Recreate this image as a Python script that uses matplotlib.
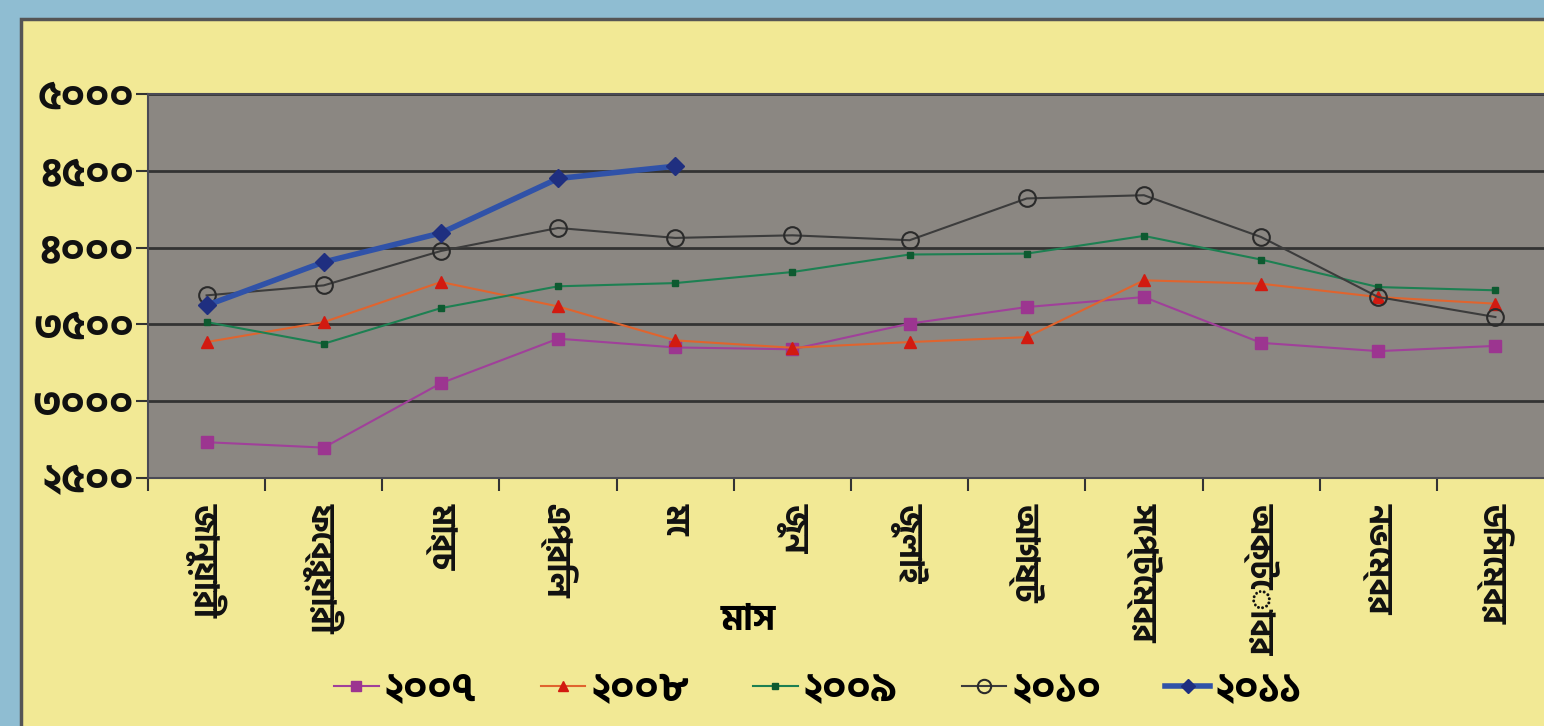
import matplotlib
matplotlib.use("Agg")
import matplotlib.pyplot as plt
from matplotlib.patches import Rectangle
import numpy as np

# data
months = ["জানুয়ারী", "ফেব্রুয়ারী", "মার্চ", "এপ্রিল", "মে", "জুন",
          "জুলাই", "আগষ্ট", "সেপ্টেম্বর", "অক্টোবর", "নভেম্বর", "ডিসেম্বর"]
years = ["২০০৭", "২০০৮", "২০০৯", "২০১০", "২০১১"]
v2007 = [2733, 2698, 3117, 3407, 3350, 3338, 3505, 3613, 3678, 3380, 3326, 3360]
v2008 = [3385, 3515, 3776, 3617, 3396, 3348, 3385, 3417, 3787, 3765, 3678, 3635]
v2009 = [3515, 3374, 3606, 3748, 3769, 3841, 3955, 3961, 4076, 3922, 3743, 3722]
v2010 = [3689, 3754, 3978, 4128, 4063, 4080, 4048, 4320, 4341, 4069, 3678, 3548]
v2011 = [3624, 3906, 4095, 4450, 4530]
yticks = [2500, 3000, 3500, 4000, 4500, 5000]
ytick_labels = ["২৫০০", "৩০০০", "৩৫০০", "৪০০০", "৪৫০০", "৫০০০"]
xlabel = "মাস"

plt.rcParams["font.family"] = ["Hind Siliguri", "Noto Sans Bengali", "DejaVu Sans"]

fig = plt.figure(figsize=(15.44, 7.26), dpi=100)
fig.patch.set_facecolor("#8fbdd2")
fig.patches.append(Rectangle((21 / 1544, -0.05), 1.1, 1 - 19 / 726 + 0.05,
                             transform=fig.transFigure, facecolor="#f2e995",
                             edgecolor="#555555", linewidth=2.5, zorder=-5))

ax = fig.add_axes([148 / 1544, 1 - 478 / 726, 1406 / 1544, 384 / 726])
ax.set_facecolor("#8b8782")
x = np.arange(len(months))

ax.plot(x, v2007, "-s", color="#a0409a", lw=1.5, ms=9, mfc="#9c3590", mec="#9c3590", label=years[0], zorder=3)
ax.plot(x, v2008, "-^", color="#e0642e", lw=1.5, ms=9, mfc="#d21a10", mec="#d21a10", label=years[1], zorder=3)
ax.plot(x, v2009, "-s", color="#1d8052", lw=1.5, ms=5, mfc="#0d5a30", mec="#0d5a30", label=years[2], zorder=3)
ax.plot(x, v2010, "-o", color="#3c3c3c", lw=1.5, ms=12, mfc="none", mec="#2a2a2a", mew=1.5, label=years[3], zorder=4)
ax.plot(x[:len(v2011)], v2011, "-D", color="#3052a8", lw=4, ms=9, mfc="#1f2f80", mec="#1f2f80", label=years[4], zorder=5)

ax.set_xlim(-0.5, len(months) - 0.5)
ax.set_ylim(2500, 5000)
ax.set_yticks(yticks)
ax.set_yticklabels(ytick_labels, fontsize=29, fontweight="bold", color="#111111")
ax.set_xticks(x)
ax.set_xticklabels(months, rotation=-90, fontsize=24, fontweight="bold", color="#111111", va="top")
ax.set_xticks(np.arange(-0.5, len(months)), minor=True)
ax.tick_params(axis="x", which="major", length=0, pad=18)
ax.tick_params(axis="x", which="minor", length=9, width=1.5, color="#333333", direction="out")
ax.tick_params(axis="y", length=9, width=1.5, color="#333333", direction="out", pad=1)
ax.yaxis.grid(True, color="#333333", lw=2)
ax.set_axisbelow(True)
for s in ax.spines.values():
    s.set_color("#4a4a55")
    s.set_linewidth(1.5)

fig.text(748 / 1544, 1 - 620 / 726, xlabel, fontsize=26, fontweight="bold", ha="center", va="center")

fig.legend(loc="center", bbox_to_anchor=(818 / 1544, 1 - 690 / 726), ncol=5, frameon=False,
           handlelength=1.1, handletextpad=0.15, columnspacing=1.6, markerscale=0.8,
           prop={"weight": "bold", "size": 29})

fig.savefig("out.png", dpi=100, facecolor=fig.get_facecolor())
